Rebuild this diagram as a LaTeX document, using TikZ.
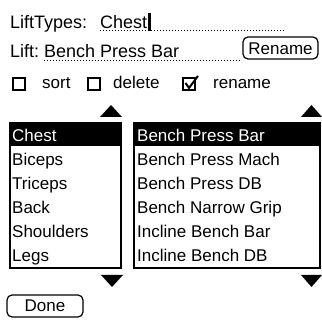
\documentclass[tikz,border=0pt]{standalone}
\usepackage{fontspec}
\setmainfont{Liberation Sans}
\usepackage{tikz}
\definecolor{ink}{rgb}{0,0,0}

\begin{document}
\begin{tikzpicture}[
     x = 1pt, y = -1pt,
     every node/.style = {
     	inner sep = 0pt, anchor = base west, ink,
     	font = \fontsize{17}{17}\selectfont},
     toplabel/.style = {font = \fontsize{18}{18}\selectfont},
     hilite/.style = {white},
     field/.style = {ink, dotted, line width = 1pt},
     button/.style = {ink, rounded corners = 5pt, line width = 1.2pt},
     tickbox/.style = {ink, line width = 1.2pt},
     listbox/.style = {ink, line width = 1.2pt},
     arrowhead/.style = {ink, fill = ink}
     ]

       \useasboundingbox (0,0) rectangle (322,320);

       % top fields
       \node[toplabel] (LT) at (10,29) {LiftTypes:}; % 0
       \node[toplabel] (LTv) at (100,29) {Chest}; % 1
       \draw[field] (100,31) -- (285,31);
       \fill[ink] ([xshift = 0.5pt]LTv.east |- 0,13) rectangle ([xshift = 4pt]LTv.east |- 0,31);
       \node[toplabel] (L) at (10,58) {Lift:}; % 2
       \node[toplabel] (Lv) at (44,58) {Bench Press Bar}; % 3
       \draw[field] (44,61) -- (240,61);
       \draw[button] (243,37) rectangle (318,59);
       \node[anchor = base] (RN) at (280.5,55) {Rename}; % 4

       % check boxes
       \draw[tickbox] (13,78) rectangle (25,90);
       \node (S) at (42,89) {sort}; % 5
       \draw[tickbox] (88,78) rectangle (100,90);
       \node (D) at (113,89) {delete}; % 6
       \draw[tickbox] (183,78) rectangle (195,90);
       \draw[ink, line width = 2pt] (185.5,83) -- (189,88) -- (198,76);
       \node (R) at (213,89) {rename}; % 7

       % scroll arrows
       \fill[arrowhead] (100,117) -- (122,117) -- (111,105) -- cycle;
       \fill[arrowhead] (301,117) -- (322,117) -- (311.5,105) -- cycle;
       \fill[arrowhead] (101,275) -- (123,275) -- (112,287) -- cycle;
       \fill[arrowhead] (301,275) -- (322,275) -- (311.5,287) -- cycle;

       % left list
       \fill[ink] (10,123) rectangle (121,146);
       \draw[listbox] (10,123) rectangle (121,268);
       \draw[ink, line width = 2.4pt] (10,268) -- (121,268);
       \node[hilite] (T1) at (12,142) {Chest}; % 8
       \node (T2) at (12,166) {Biceps}; % 9
       \node (T3) at (12,190) {Triceps}; % 10
       \node (T4) at (12,214) {Back}; % 11
       \node (T5) at (12,238) {Shoulders}; % 12
       \node (T6) at (12,262) {Legs}; % 13

       % right list
       \fill[ink] (134,123) rectangle (320,146);
       \draw[listbox] (134,123) rectangle (320,268);
       \draw[ink, line width = 2.4pt] (134,268) -- (320,268);
       \node[hilite] (E1) at (137,142) {Bench Press Bar}; % 14
       \node (E2) at (137,166) {Bench Press Mach}; % 15
       \node (E3) at (137,190) {Bench Press DB}; % 16
       \node (E4) at (137,214) {Bench Narrow Grip}; % 17
       \node (E5) at (137,238) {Incline Bench Bar}; % 18
       \node (E6) at (137,262) {Incline Bench DB}; % 19

       % done button
       \draw[button] (7,295) rectangle (83,317);
       \node[anchor = base] (DN) at (45,312) {Done}; % 20

      \end{tikzpicture}
\end{document}
